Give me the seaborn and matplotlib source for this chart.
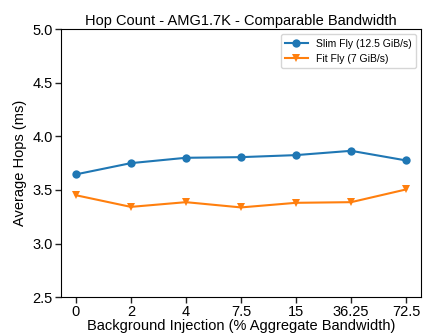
import matplotlib
matplotlib.use("Agg")
import matplotlib.pyplot as plt
import seaborn as sns
import pandas as pd

categories = ["0", "2", "4", "7.5", "15", "36.25", "72.5"]
slim_fly = [3.645, 3.75, 3.80, 3.806, 3.825, 3.865, 3.775]
fit_fly = [3.451, 3.342, 3.386, 3.337, 3.38, 3.386, 3.505]
series_names = ["Slim Fly (12.5 GiB/s)", "Fit Fly (7 GiB/s)"]

plt.rcParams["font.family"] = ["Liberation Sans", "DejaVu Sans"]
plt.rcParams["xtick.bottom"] = True
plt.rcParams["ytick.left"] = True
plt.rcParams["xtick.major.size"] = 4
plt.rcParams["ytick.major.size"] = 4
plt.rcParams["xtick.major.width"] = 1.0
plt.rcParams["ytick.major.width"] = 1.0
plt.rcParams["xtick.color"] = "black"
plt.rcParams["ytick.color"] = "black"

rows = []
for name, vals in zip(series_names, [slim_fly, fit_fly]):
    for i, (c, v) in enumerate(zip(categories, vals)):
        rows.append({"idx": i, "cat": c, "value": v, "series": name})
df = pd.DataFrame(rows)

fig = plt.figure(figsize=(4.35, 3.35), dpi=100)
ax = fig.add_axes([0.140, 0.113, 0.828, 0.800])
sns.lineplot(data=df, x="idx", y="value", hue="series", style="series",
             markers={series_names[0]: "o", series_names[1]: "v"}, dashes=False,
             palette=["#1f77b4", "#ff7f0e"], markersize=6, markeredgewidth=0,
             linewidth=1.5, ax=ax)
ax.set_xticks(range(len(categories)))
ax.set_xticklabels(categories)
ax.set_xlim(-0.27, len(categories) - 1 + 0.27)
ax.set_ylim(2.5, 5.0)
ax.set_yticks([2.5, 3.0, 3.5, 4.0, 4.5, 5.0])
ax.tick_params(axis="both", which="major", labelsize=10.5, direction="out",
               length=4, width=1.0, color="#222222", left=True, bottom=True,
               pad=2.0)
for t in ax.xaxis.get_major_ticks() + ax.yaxis.get_major_ticks():
    t.tick1line.set_visible(True)
    t.tick1line.set_markersize(4)
    t.tick1line.set_markeredgewidth(1.0)
    t.tick1line.set_markeredgecolor("#222222")
    t.tick1line.set_zorder(5)
ax.set_xlabel("Background Injection (% Aggregate Bandwidth)", fontsize=10.5, labelpad=0)
ax.set_ylabel("Average Hops (ms)", fontsize=10.5)
ax.set_title("Hop Count - AMG1.7K - Comparable Bandwidth", fontsize=10.5, pad=3)
leg = ax.legend(loc="upper right", fontsize=7.5, title=None, markerscale=1.0,
                handlelength=2.2, borderaxespad=0.5)
for s in ax.spines.values():
    s.set_visible(True)
    s.set_color("black")
    s.set_linewidth(0.8)
fig.savefig("out.png", dpi=100)
